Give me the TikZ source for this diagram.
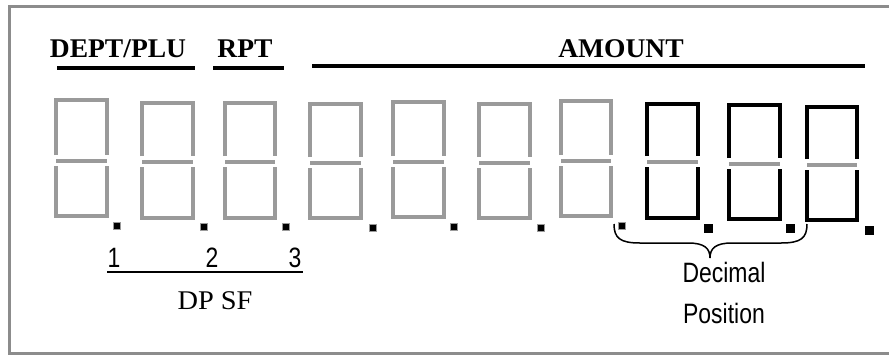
\documentclass[tikz,border=0pt]{standalone}
\usepackage{fontspec}
\setmainfont{Liberation Serif}
\newfontfamily\arialfont[FakeStretch=0.82]{Liberation Sans}
\newfontfamily\headfont[FakeStretch=1.02]{Liberation Serif}
\newfontfamily\dpfont[FakeStretch=1.05]{Liberation Serif}
\definecolor{seggray}{HTML}{9A9A9A}
\definecolor{framegray}{HTML}{8C8C8C}
\newcommand\sevenseg[6]{%
  \draw[#6] (#1,#5-6) -- (#1,#3) -- (#2,#3) -- (#2,#5-6);
  \draw[gseg] (#1,#5) -- (#2,#5);
  \draw[#6] (#1,#5+5) -- (#1,#4) -- (#2,#4) -- (#2,#5+5);
}
\begin{document}
\begin{tikzpicture}[x=1pt,y=-1pt,
  gseg/.style={draw=seggray,line width=3.2pt},
  bseg/.style={draw=black,line width=4pt},
  smalldot/.style={draw=seggray,fill=black,line width=1.2pt,minimum size=7pt,inner sep=0pt},
  bigdot/.style={fill=black,minimum size=9pt,inner sep=0pt},
  headtxt/.style={anchor=base,inner sep=0pt,font=\headfont\bfseries\fontsize{27}{31}\selectfont},
  headline/.style={line width=4.5pt},
  sanstxt/.style={anchor=base,inner sep=0pt,font=\arialfont\fontsize{28}{32}\selectfont},
  serifttxt/.style={anchor=base,inner sep=0pt,font=\dpfont\fontsize{27}{31}\selectfont}]
\useasboundingbox (0,0) rectangle (889,354);
% frame
\draw[framegray,line width=3pt] (895,6.5) -- (9.5,6.5) -- (9.5,353) -- (895,353);
% headers
\node[headtxt] (dept) at (118,57) {DEPT/PLU};
\node[headtxt] (rpt) at (245,57) {RPT};
\node[headtxt] (amount) at (621,57) {AMOUNT};
\coordinate (dl1) at (57,68); \coordinate (dl2) at (195,68);
\coordinate (rl1) at (213,68); \coordinate (rl2) at (284,68);
\coordinate (al1) at (312,66); \coordinate (al2) at (865,66);
\draw[headline] (dl1) -- (dl2);
\draw[headline] (rl1) -- (rl2);
\draw[headline] (al1) -- (al2);
% digits
\sevenseg{56}{107}{100}{216}{161}{gseg}
\sevenseg{142}{193}{103}{218}{162}{gseg}
\sevenseg{225}{275}{103}{218}{162}{gseg}
\sevenseg{310}{361}{104}{218}{163}{gseg}
\sevenseg{393}{444}{102}{217}{162}{gseg}
\sevenseg{479}{530}{104}{218}{163}{gseg}
\sevenseg{561}{611}{101}{216}{161}{gseg}
\sevenseg{647}{698}{104}{218}{162}{bseg}
\sevenseg{729}{780}{105}{219}{164}{bseg}
\sevenseg{807}{857}{107}{220}{165}{bseg}
% decimal dots
\node[smalldot] (p1) at (117,226) {};
\node[smalldot] (p2) at (204,227) {};
\node[smalldot] (p3) at (286,227) {};
\node[smalldot] (p4) at (373,228) {};
\node[smalldot] (p5) at (454,227) {};
\node[smalldot] (p6) at (541,228) {};
\node[smalldot] (p7) at (622,226) {};
\node[bigdot] (p8) at (708,228) {};
\node[bigdot] (p9) at (790,228) {};
\node[bigdot] (p10) at (869,230) {};
% DP SF
\node[sanstxt] (n1) at (114,267) {1};
\node[sanstxt] (n2) at (212,267) {2};
\node[sanstxt] (n3) at (295,267) {3};
\coordinate (u1) at (107,272); \coordinate (u2) at (303,272);
\draw[line width=1.5pt] (u1) -- (u2);
\node[serifttxt] (dpsf) at (215,309) {DP SF};
% brace
\coordinate (b1) at (614,224);
\coordinate (btip) at (710,258);
\coordinate (b2) at (807,224);
\draw[line width=1.5pt] (b1) .. controls (614,238) and (620,243) .. (640,243) -- (688,243)
  .. controls (704,243) and (710,248) .. (btip)
  .. controls (710,248) and (716,243) .. (732,243) -- (781,243)
  .. controls (801,243) and (807,238) .. (b2);
\node[sanstxt] (dec) at (724,282) {Decimal};
\node[sanstxt] (pos) at (724,323) {Position};
\end{tikzpicture}
\end{document}
